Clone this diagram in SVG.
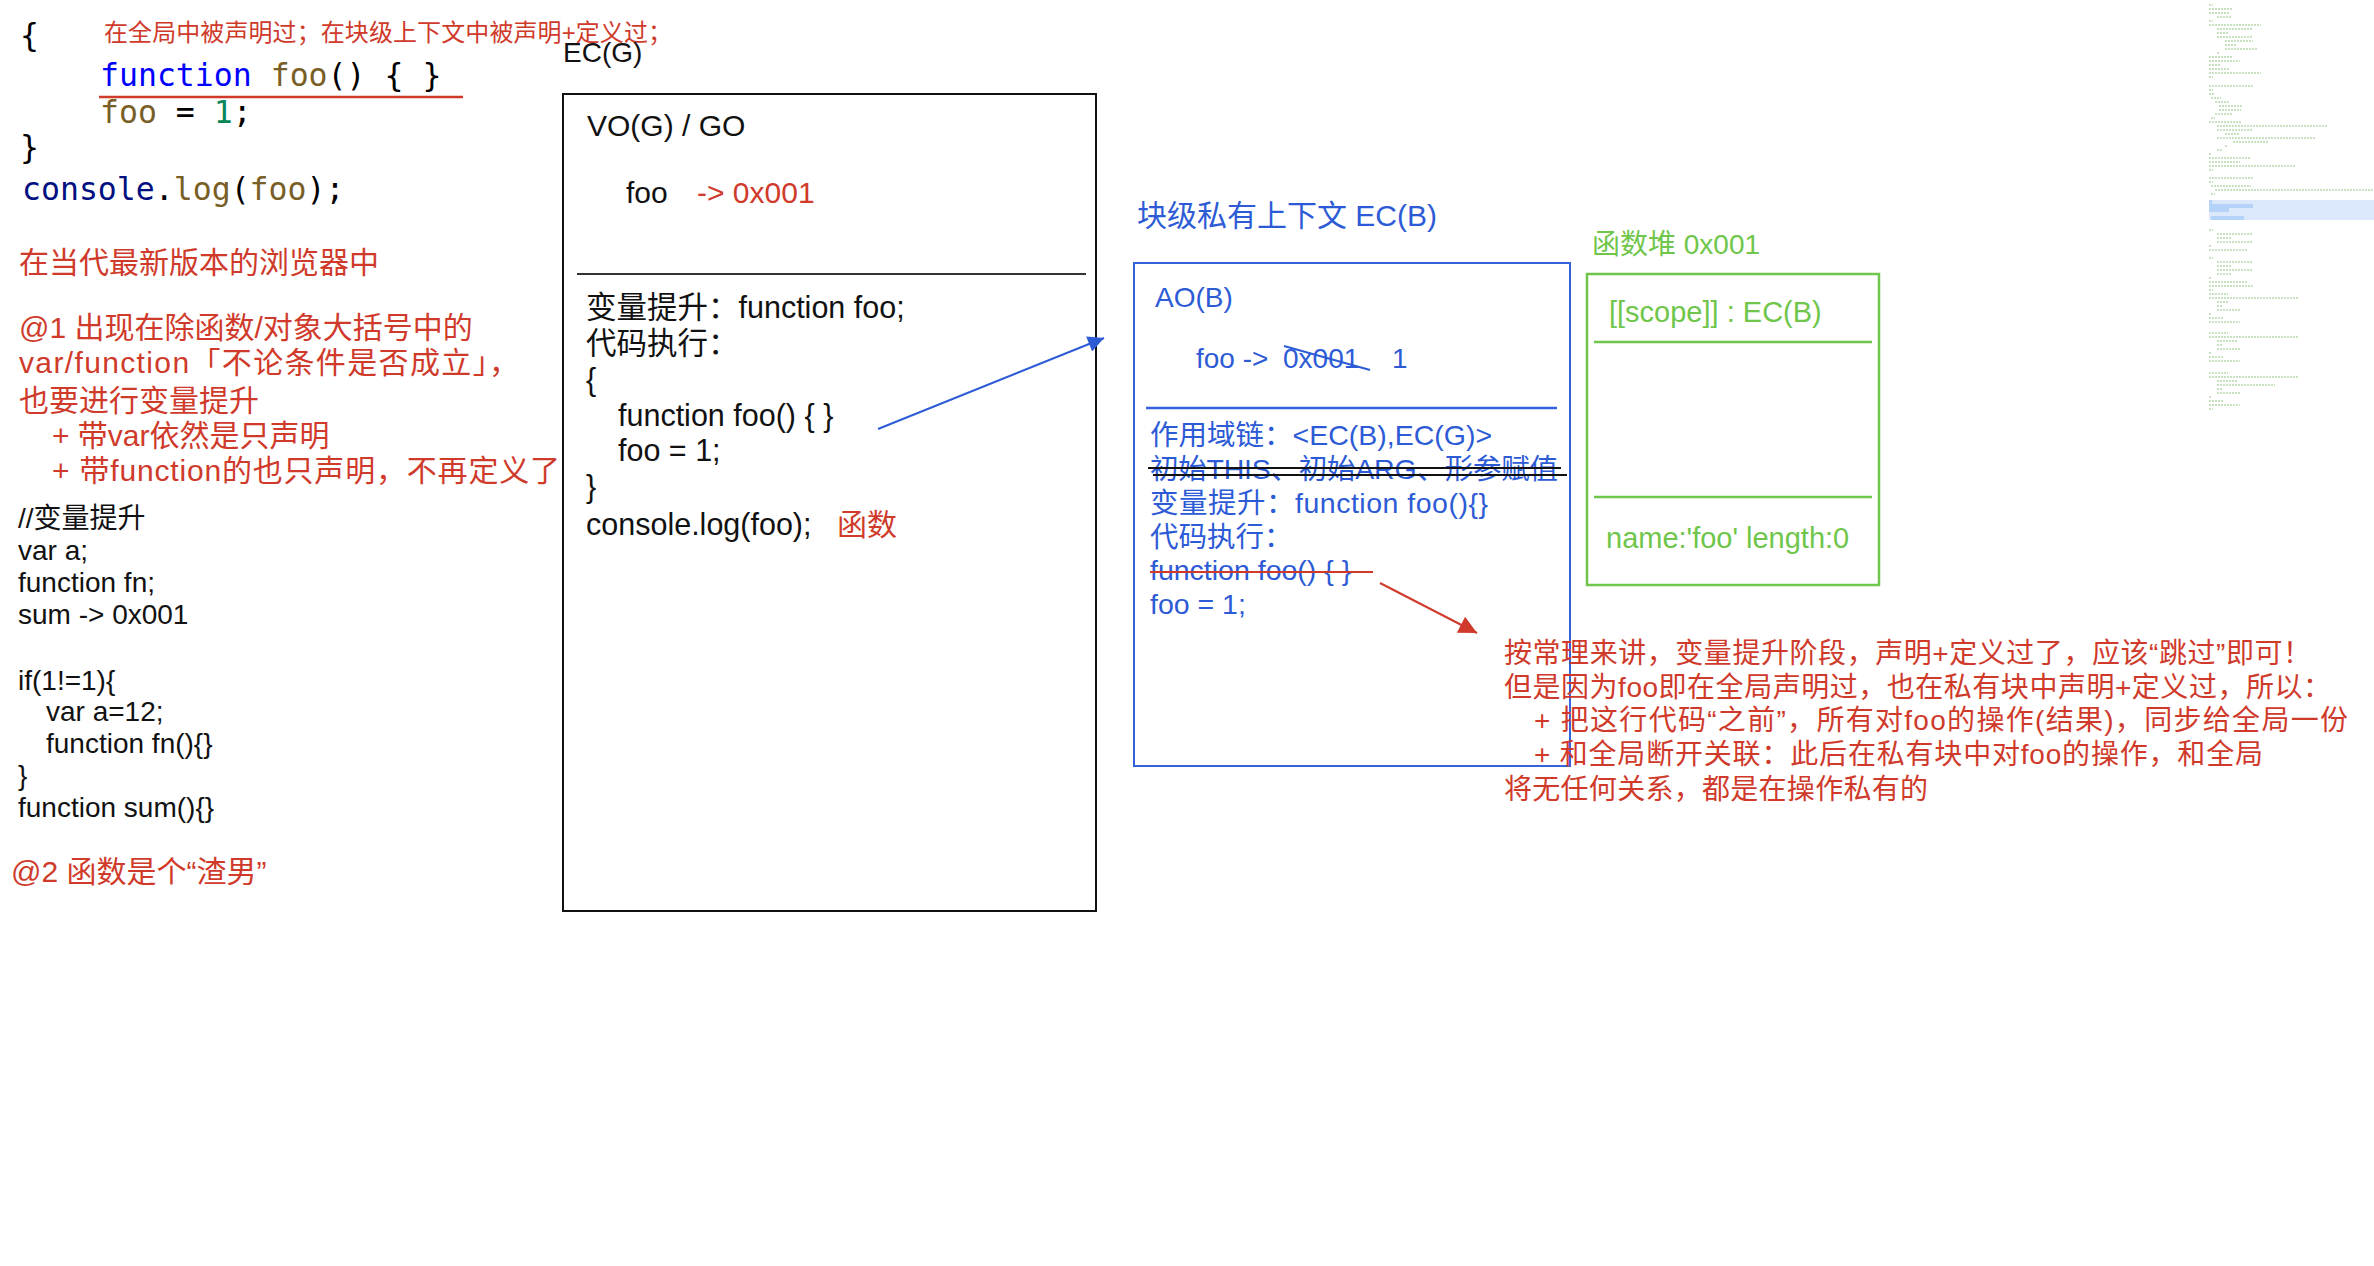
<svg xmlns="http://www.w3.org/2000/svg" width="2374" height="1266" viewBox="0 0 2374 1266">
<style>
.s{font-family:"Liberation Sans","Noto Sans CJK SC",sans-serif;}
.mono{font-family:"DejaVu Sans Mono","Liberation Mono",monospace;font-size:31.5px;fill:#000;}
.red{fill:#cf3a2b;}
.blk{fill:#111;}
.blu{fill:#2d5bd6;}
.grn{fill:#6fc64a;}
.f30{font-size:30px;}
.f28{font-size:28px;}
</style>
<defs>
<marker id="ab" viewBox="0 0 10 10" refX="10" refY="5" markerWidth="22" markerHeight="16" markerUnits="userSpaceOnUse" orient="auto"><path d="M0,0 L10,5 L0,10 z" fill="#2d5bd6"/></marker>
<marker id="ar" viewBox="0 0 10 10" refX="10" refY="5" markerWidth="24" markerHeight="18" markerUnits="userSpaceOnUse" orient="auto"><path d="M0,0 L10,5 L0,10 z" fill="#cf3a2b"/></marker>
</defs>
<rect width="2374" height="1266" fill="#fff"/>

<g id="code-sample">
<text class="mono" x="20" y="46">{</text>
<text class="mono" x="100" y="86"><tspan fill="#0000ff">function</tspan> <tspan fill="#795e26">foo</tspan>() { }</text>
<text class="mono" x="100" y="123"><tspan fill="#795e26">foo</tspan> = <tspan fill="#098658">1</tspan>;</text>
<text class="mono" x="20" y="158">}</text>
<text class="mono" x="22" y="200"><tspan fill="#001080">console</tspan>.<tspan fill="#795e26">log</tspan>(<tspan fill="#795e26">foo</tspan>);</text>
<line x1="99" y1="97" x2="463" y2="97" stroke="#cf3a2b" stroke-width="2.5"/>
<text class="s red" x="104" y="41" font-size="24" textLength="568">在全局中被声明过；在块级上下文中被声明+定义过；</text>
</g>

<g id="notes-left">
<text class="s red f30" x="19" y="273">在当代最新版本的浏览器中</text>
<text class="s red f30" x="19" y="338">@1 出现在除函数/对象大括号中的</text>
<text class="s red f30" x="19" y="373" textLength="500">var/function「不论条件是否成立」，</text>
<text class="s red f30" x="19" y="411">也要进行变量提升</text>
<text class="s red f30" x="52" y="446">+ 带var依然是只声明</text>
<text class="s red f30" x="52" y="481" textLength="508">+ 带function的也只声明，不再定义了</text>
</g>

<g id="hoist-example" class="s blk" font-size="28">
<text x="18" y="528">//变量提升</text>
<text x="18" y="560">var a;</text>
<text x="18" y="592">function fn;</text>
<text x="18" y="624">sum -&gt; 0x001</text>
<text x="18" y="690">if(1!=1){</text>
<text x="46" y="721">var a=12;</text>
<text x="46" y="753">function fn(){}</text>
<text x="18" y="785">}</text>
<text x="18" y="817">function sum(){}</text>
</g>

<g id="note-2">
<text class="s red f30" x="11" y="882">@2 函数是个“渣男”</text>
</g>

<g id="ec-g">
<text class="s blk" x="563" y="62" font-size="28">EC(G)</text>
<rect x="563" y="94" width="533" height="817" fill="none" stroke="#111" stroke-width="2"/>
<text class="s blk" x="587" y="136" font-size="30">VO(G) / GO</text>
<text class="s blk" x="626" y="203" font-size="30">foo</text>
<text class="s red" x="697" y="203" font-size="30">-&gt; 0x001</text>
<line x1="577" y1="274" x2="1086" y2="274" stroke="#333" stroke-width="2"/>
<g class="s blk" font-size="30.5">
<text x="586" y="318">变量提升：function foo;</text>
<text x="586" y="354">代码执行：</text>
<text x="586" y="390">{</text>
<text x="618" y="426">function foo() { }</text>
<text x="618" y="461">foo = 1;</text>
<text x="586" y="497">}</text>
<text x="586" y="535">console.log(foo);</text>
</g>
<text class="s red" x="837" y="535" font-size="30">函数</text>
</g>

<g id="ec-b">
<text class="s blu f30" x="1137" y="226">块级私有上下文 EC(B)</text>
<rect x="1134" y="263" width="436" height="503" fill="none" stroke="#3563dc" stroke-width="2"/>
<text class="s blu f28" x="1155" y="307">AO(B)</text>
<text class="s blu f28" x="1196" y="368">foo -&gt;</text>
<text class="s blu f28" x="1283" y="368">0x001</text>
<text class="s blu f28" x="1392" y="368">1</text>
<line x1="1284" y1="346" x2="1370" y2="370" stroke="#2d5bd6" stroke-width="2"/>
<line x1="1146" y1="408" x2="1557" y2="408" stroke="#3563dc" stroke-width="2.5"/>
<g class="s blu" font-size="28.5">
<text x="1150" y="445">作用域链：&lt;EC(B),EC(G)&gt;</text>
<text x="1150" y="479" textLength="408">初始THIS、初始ARG、形参赋值</text>
<text x="1150" y="513" textLength="338">变量提升：function foo(){}</text>
<text x="1150" y="547">代码执行：</text>
<text x="1150" y="580">function foo() { }</text>
<text x="1150" y="614">foo = 1;</text>
</g>
<line x1="1148" y1="468" x2="1561" y2="468" stroke="#111" stroke-width="2"/>
<line x1="1153" y1="475" x2="1567" y2="475" stroke="#111" stroke-width="2"/>
<line x1="1150" y1="572" x2="1373" y2="572" stroke="#cf3a2b" stroke-width="2"/>
</g>

<g id="heap-0x001">
<text class="s grn f28" x="1592" y="254">函数堆 0x001</text>
<rect x="1587" y="274" width="292" height="311" fill="none" stroke="#6fc64a" stroke-width="2.5"/>
<text class="s grn" x="1609" y="322" font-size="29">[[scope]] : EC(B)</text>
<line x1="1594" y1="342" x2="1872" y2="342" stroke="#6fc64a" stroke-width="2.5"/>
<line x1="1594" y1="497" x2="1872" y2="497" stroke="#6fc64a" stroke-width="2.5"/>
<text class="s grn" x="1606" y="548" font-size="29">name:'foo' length:0</text>
</g>

<g id="note-right" class="s red f28">
<text x="1504" y="663" textLength="807">按常理来讲，变量提升阶段，声明+定义过了，应该“跳过”即可！</text>
<text x="1504" y="697" textLength="827">但是因为foo即在全局声明过，也在私有块中声明+定义过，所以：</text>
<text x="1534" y="730" textLength="814">+ 把这行代码“之前”，所有对foo的操作(结果)，同步给全局一份</text>
<text x="1534" y="764" textLength="729">+ 和全局断开关联：此后在私有块中对foo的操作，和全局</text>
<text x="1504" y="799" textLength="424">将无任何关系，都是在操作私有的</text>
</g>

<g id="connectors">
<line x1="878" y1="429" x2="1104" y2="338" stroke="#2d5bd6" stroke-width="2" marker-end="url(#ab)"/>
<line x1="1380" y1="583" x2="1477" y2="633" stroke="#cf3a2b" stroke-width="2" marker-end="url(#ar)"/>
</g>

<g id="minimap">
<rect x="2209" y="200" width="165" height="20" fill="#dbe8fb"/>
<rect x="2209" y="200" width="3" height="4" fill="#b5d2f8"/>
<rect x="2209" y="204" width="44" height="4" fill="#b5d2f8"/>
<rect x="2209" y="208" width="20" height="4" fill="#b5d2f8"/>
<rect x="2211" y="216" width="33" height="4" fill="#b5d2f8"/>
<path fill="none" stroke="#5aa64a" stroke-opacity="0.45" stroke-width="1.5" stroke-dasharray="2 1" d="M2209 5H2213M2209 9H2233M2209 13H2230M2217 17H2231M2209 21H2213M2209 25H2261M2217 29H2253M2217 33H2228M2217 37H2253M2225 41H2253M2225 45H2237M2225 49H2258M2217 53H2219M2209 57H2233M2209 61H2240M2209 65H2221M2209 69H2230M2209 73H2261M2209 77H2213M2209 86H2253M2209 90H2213M2209 94H2215M2211 98H2221M2215 102H2230M2219 106H2243M2219 110H2241M2215 114H2233M2211 118H2215M2209 122H2241M2217 126H2328M2217 130H2253M2225 134H2240M2217 138H2315M2233 142H2268M2225 146H2227M2217 150H2223M2209 154H2212M2209 158H2251M2209 162H2240M2209 166H2295M2209 170H2213M2209 178H2253M2209 182H2213M2211 186H2251M2215 190H2374M2211 194H2215M2209 230H2213M2217 234H2253M2217 238H2232M2217 242H2253M2209 246H2212M2209 250H2248M2209 258H2213M2217 262H2253M2217 266H2232M2217 270H2253M2217 274H2232M2209 278H2212M2209 282H2248M2209 286H2253M2209 290H2213M2209 294H2228M2209 298H2298M2217 302H2228M2217 306H2223M2217 310H2240M2209 314H2212M2209 318H2223M2209 322H2240M2209 333H2228M2209 337H2298M2217 341H2237M2217 345H2223M2217 349H2240M2209 353H2212M2209 357H2223M2209 361H2240M2209 373H2228M2209 377H2298M2217 381H2237M2217 385H2275M2217 389H2223M2217 393H2240M2209 397H2212M2209 401H2223M2209 405H2240M2209 409H2213"/>
</g>
</svg>
